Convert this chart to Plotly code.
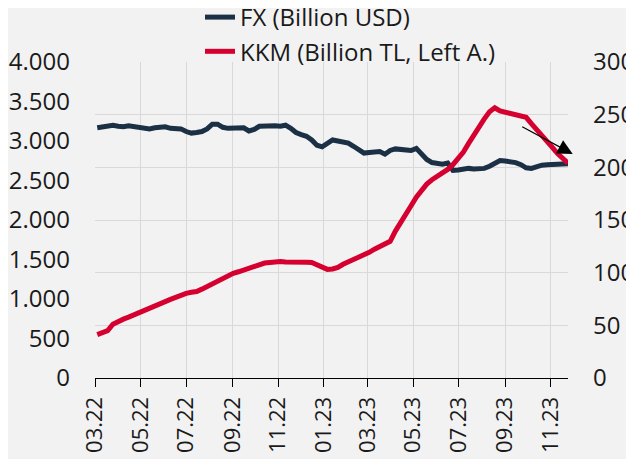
import pandas as pd
import plotly.graph_objects as go

dates = pd.date_range("2022-03-04", periods=91, freq="7D")

fx_busd = [237.5, 238.5, 239.5, 240, 239, 238.5, 239.5, 239, 237.5, 238,
           236.5, 237.5, 238, 238.5, 237, 236.5, 236.5, 234, 232.5, 233,
           234, 236.5, 241, 241, 238, 237, 237, 238, 237.5, 234.5,
           236, 239, 239.5, 239.5, 239.5, 239, 240, 237, 233, 231,
           229.5, 226, 221, 219.5, 223, 226, 225, 224, 223, 220,
           216, 213.5, 214, 215, 215, 212.5, 216, 217.5, 217, 217,
           216, 218, 213, 207.5, 204.5, 204, 203, 204, 197, 197.5,
           198.5, 199, 198.5, 199, 199, 201, 204, 206.5, 206, 205.5,
           204.5, 202.5, 199.5, 199, 201, 202, 202.5, 203, 202.5, 203,
           203.5]

kkm_btl = [550, 570, 600, 680, 720, 745, 770, 800, 830, 850,
           880, 910, 940, 970, 995, 1020, 1050, 1072, 1085, 1095,
           1125, 1160, 1195, 1235, 1270, 1300, 1325, 1345, 1370, 1395,
           1420, 1440, 1455, 1462, 1470, 1475, 1468, 1470, 1465, 1462,
           1465, 1462, 1430, 1390, 1375, 1380, 1400, 1440, 1470, 1495,
           1520, 1565, 1590, 1630, 1660, 1690, 1730, 1860, 1960, 2080,
           2180, 2290, 2370, 2455, 2510, 2550, 2591, 2640, 2700, 2780,
           2860, 2970, 3080, 3180, 3280, 3370, 3420, 3380, 3365, 3350,
           3330, 3320, 3300, 3220, 3150, 3080, 3000, 2920, 2840, 2770,
           2720]

left_ticks = [0, 500, 1000, 1500, 2000, 2500, 3000, 3500, 4000]
right_ticks = [0, 50, 100, 150, 200, 250, 300]

NAVY = "#1b2f45"
RED = "#d5002f"
GRID = "#d9d9d9"
BG = "#f2f2f2"
FONT = "Open Sans"
FS = 24

fig = go.Figure()
fig.add_trace(go.Scatter(x=dates, y=fx_busd, name="FX (Billion USD)", mode="lines",
                         line=dict(color=NAVY, width=5), yaxis="y"))
fig.add_trace(go.Scatter(x=dates, y=kkm_btl, name="KKM (Billion TL, Left A.)", mode="lines",
                         line=dict(color=RED, width=5), yaxis="y2"))

fig.add_annotation(x=1.01, y=212.7, xref="paper", yref="y",
                   ax=-52, ay=-28, axref="pixel", ayref="pixel",
                   showarrow=True, arrowhead=2, arrowsize=2.5, arrowwidth=1.2,
                   arrowcolor="black", text="")

fig.update_layout(
    width=626, height=451,
    paper_bgcolor=BG, plot_bgcolor=BG,
    margin=dict(l=87, r=66, t=54, b=81, autoexpand=False),
    separators=",.",
    font=dict(family=FONT, size=FS, color="#1a1a1a"),
    showlegend=True,
    legend=dict(x=0.222, y=1.212, xanchor="left", yanchor="top",
                orientation="v", bgcolor="rgba(0,0,0,0)",
                font=dict(size=FS), tracegroupgap=0),
    xaxis=dict(type="date", range=["2022-03-01", dates[-1]],
               tick0="2022-03-01", dtick="M2", tickformat="%m.%y",
               tickangle=-90, showgrid=True, gridcolor=GRID, gridwidth=1,
               showline=True, linecolor="black", linewidth=1,
               ticks="outside", ticklen=8, tickcolor="black",
               ticklabelstandoff=1, automargin=False,
               tickfont=dict(size=22), zeroline=False),
    yaxis=dict(range=[0, 300], tickvals=right_ticks, side="right",
               showgrid=True, gridcolor=GRID, gridwidth=1,
               zeroline=False, showline=False, ticks="", automargin=False,
               ticklabelstandoff=24, tickfont=dict(size=FS)),
    yaxis2=dict(range=[0, 4000], tickvals=left_ticks, side="left",
                overlaying="y", showgrid=False, zeroline=False,
                showline=False, ticks="", tickformat=",d", automargin=False,
                ticklabelstandoff=24, tickfont=dict(size=FS)),
)

fig.write_html("out.html")
